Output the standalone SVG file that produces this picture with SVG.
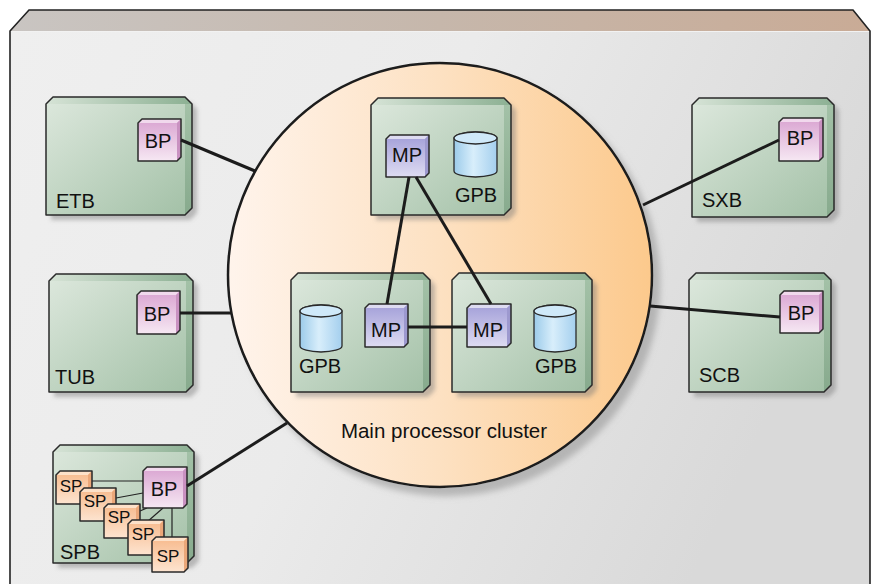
<svg xmlns="http://www.w3.org/2000/svg" width="877" height="584" viewBox="0 0 877 584">
<defs>
<linearGradient id="gFace" x1="0" y1="0" x2="1" y2="0.3"><stop offset="0" stop-color="#efefef"/><stop offset="0.5" stop-color="#ebebeb"/><stop offset="1" stop-color="#d9d9d9"/></linearGradient>
<linearGradient id="gTopFace" x1="0" y1="0" x2="1" y2="0"><stop offset="0" stop-color="#c9c5c2"/><stop offset="0.5" stop-color="#c6b7ab"/><stop offset="1" stop-color="#c9ab96"/></linearGradient>
<linearGradient id="gCircle" x1="0" y1="0" x2="1" y2="0"><stop offset="0" stop-color="#fff4ec"/><stop offset="0.5" stop-color="#fde1c2"/><stop offset="1" stop-color="#fcc98c"/></linearGradient>
<linearGradient id="gBoard" x1="0" y1="0" x2="1" y2="1"><stop offset="0" stop-color="#dde8dd"/><stop offset="1" stop-color="#a2c0a6"/></linearGradient>
<linearGradient id="gBoardTop" x1="0" y1="0" x2="1" y2="0"><stop offset="0" stop-color="#d6e3d6"/><stop offset="1" stop-color="#8cb093"/></linearGradient>
<linearGradient id="gBoardSide" x1="0" y1="0" x2="0" y2="1"><stop offset="0" stop-color="#a3c1a7"/><stop offset="1" stop-color="#87aa8d"/></linearGradient>
<linearGradient id="gBP" x1="0" y1="0" x2="0" y2="1"><stop offset="0" stop-color="#d9a3d1"/><stop offset="1" stop-color="#f6e8f3"/></linearGradient>
<linearGradient id="gMP" x1="0" y1="0" x2="0" y2="1"><stop offset="0" stop-color="#a29ed8"/><stop offset="1" stop-color="#dedcf2"/></linearGradient>
<linearGradient id="gSP" x1="0" y1="0" x2="0" y2="1"><stop offset="0" stop-color="#f7b98b"/><stop offset="1" stop-color="#fde4d0"/></linearGradient>
<linearGradient id="gCyl" x1="0" y1="0" x2="1" y2="0"><stop offset="0" stop-color="#9ccbea"/><stop offset="0.45" stop-color="#d8eefb"/><stop offset="1" stop-color="#a4cfee"/></linearGradient>
<filter id="sh" x="-10%" y="-10%" width="130%" height="130%"><feDropShadow dx="5" dy="5" stdDeviation="2" flood-color="#777" flood-opacity="0.45"/></filter>
<filter id="shc" x="-10%" y="-10%" width="130%" height="130%"><feDropShadow dx="7" dy="8" stdDeviation="3" flood-color="#888" flood-opacity="0.5"/></filter>
</defs>
<style>
.ol{fill:none;stroke:#2a2a2a;stroke-width:1.5;stroke-linejoin:round}
.bd{fill:url(#gBoard)}
.bt{fill:url(#gBoardTop)}
.bs{fill:url(#gBoardSide)}
.bp{fill:url(#gBP)}
.bpt{fill:#f1d9ed}
.bps{fill:#c991c1}
.mp{fill:url(#gMP)}
.mpt{fill:#dddbf1}
.mps{fill:#9d99cf}
.sp{fill:url(#gSP)}
.spt{fill:#fde1c9}
.sps{fill:#eba779}
.cyl{fill:url(#gCyl);stroke:#2a2a2a;stroke-width:1.3}
.cylt{fill:#cfe9f9;stroke:#2a2a2a;stroke-width:1.3}
.t{font-family:"Liberation Sans",Arial,sans-serif;font-size:20px;fill:#111}
.ts{font-family:"Liberation Sans",Arial,sans-serif;font-size:17px;fill:#111}
.c{text-anchor:middle}
.ln{stroke:#1c1c1c;stroke-width:3;fill:none;stroke-linecap:butt}
.thin{stroke:#222;stroke-width:1.2;fill:none}
</style>
<rect width="877" height="584" fill="#ffffff"/>
<g id="outer-board">
<path d="M10,31 L870,31 L870,584 L10,584 Z" fill="url(#gFace)"/>
<path d="M10,31 L29,10 L853,10 L870,31 Z" fill="url(#gTopFace)"/>
<path d="M10,584 L10,31 L29,10 L853,10 L870,31 L870,584" fill="none" stroke="#222" stroke-width="1.6"/>
<line x1="11" y1="31.5" x2="869" y2="31.5" stroke="#f2f2f2" stroke-width="1"/>
</g>
<g id="cluster">
<circle cx="440" cy="275" r="212" fill="url(#gCircle)" stroke="#1c1c1c" stroke-width="2.5" filter="url(#shc)"/>
<text class="t c" x="444" y="438" style="font-size:20.5px">Main processor cluster</text>
</g>
<g id="ETB">
<g filter="url(#sh)"><path class="bd" d="M46,104 L53,97 L185,97 L192,104 L192,208 L185,215 L46,215 Z"/></g>
<path class="bt" d="M46,104 L53,97 L185,97 L192,104 Z"/>
<path class="bs" d="M185,104 L192,104 L192,208 L185,215 Z"/>
<path class="ol" d="M46,104 L53,97 L185,97 L192,104 L192,208 L185,215 L46,215 Z"/>
<text class="t" x="56" y="208">ETB</text>
<g id="ETB-BP">
<path class="bp" d="M138,123 L142,119 L181,119 L181,157 L177,161 L138,161 Z"/>
<path class="bpt" d="M138,123 L142,119 L181,119 L177,123 Z"/>
<path class="bps" d="M177,123 L181,119 L181,157 L177,161 Z"/>
<path class="ol" d="M138,123 L142,119 L181,119 L181,157 L177,161 L138,161 Z"/>
<text class="t c" x="158" y="148">BP</text>
</g>
</g>
<g id="TUB">
<g filter="url(#sh)"><path class="bd" d="M49,281 L56,274 L186,274 L193,281 L193,385 L186,392 L49,392 Z"/></g>
<path class="bt" d="M49,281 L56,274 L186,274 L193,281 Z"/>
<path class="bs" d="M186,281 L193,281 L193,385 L186,392 Z"/>
<path class="ol" d="M49,281 L56,274 L186,274 L193,281 L193,385 L186,392 L49,392 Z"/>
<text class="t" x="55" y="384">TUB</text>
<g id="TUB-BP">
<path class="bp" d="M137,295 L141,291 L180,291 L180,330 L176,334 L137,334 Z"/>
<path class="bpt" d="M137,295 L141,291 L180,291 L176,295 Z"/>
<path class="bps" d="M176,295 L180,291 L180,330 L176,334 Z"/>
<path class="ol" d="M137,295 L141,291 L180,291 L180,330 L176,334 L137,334 Z"/>
<text class="t c" x="157" y="321">BP</text>
</g>
</g>
<g id="SPB">
<g filter="url(#sh)"><path class="bd" d="M53,452 L60,445 L187,445 L194,452 L194,556 L187,563 L53,563 Z"/></g>
<path class="bt" d="M53,452 L60,445 L187,445 L194,452 Z"/>
<path class="bs" d="M187,452 L194,452 L194,556 L187,563 Z"/>
<path class="ol" d="M53,452 L60,445 L187,445 L194,452 L194,556 L187,563 L53,563 Z"/>
<text class="t" x="60" y="559">SPB</text>
<g id="SPB-lines">
<line class="thin" x1="92" y1="481" x2="143" y2="481"/>
<line class="thin" x1="116" y1="498" x2="143" y2="493"/>
<line class="thin" x1="140" y1="511" x2="147" y2="508"/>
<line class="thin" x1="147" y1="522" x2="163" y2="508"/>
<line class="thin" x1="172" y1="508" x2="172" y2="537"/>
</g>
<g id="SP1">
<path class="sp" d="M56,475 L60,471 L92,471 L92,500 L88,504 L56,504 Z"/>
<path class="spt" d="M56,475 L60,471 L92,471 L88,475 Z"/>
<path class="sps" d="M88,475 L92,471 L92,500 L88,504 Z"/>
<path class="ol" d="M56,475 L60,471 L92,471 L92,500 L88,504 L56,504 Z"/>
<text class="ts c" x="71" y="492">SP</text>
</g>
<g id="SP2">
<path class="sp" d="M80,492 L84,488 L116,488 L116,517 L112,521 L80,521 Z"/>
<path class="spt" d="M80,492 L84,488 L116,488 L112,492 Z"/>
<path class="sps" d="M112,492 L116,488 L116,517 L112,521 Z"/>
<path class="ol" d="M80,492 L84,488 L116,488 L116,517 L112,521 L80,521 Z"/>
<text class="ts c" x="95" y="507">SP</text>
</g>
<g id="SP3">
<path class="sp" d="M104,508 L108,504 L140,504 L140,534 L136,538 L104,538 Z"/>
<path class="spt" d="M104,508 L108,504 L140,504 L136,508 Z"/>
<path class="sps" d="M136,508 L140,504 L140,534 L136,538 Z"/>
<path class="ol" d="M104,508 L108,504 L140,504 L140,534 L136,538 L104,538 Z"/>
<text class="ts c" x="119" y="523">SP</text>
</g>
<g id="SP4">
<path class="sp" d="M128,524 L132,520 L164,520 L164,551 L160,555 L128,555 Z"/>
<path class="spt" d="M128,524 L132,520 L164,520 L160,524 Z"/>
<path class="sps" d="M160,524 L164,520 L164,551 L160,555 Z"/>
<path class="ol" d="M128,524 L132,520 L164,520 L164,551 L160,555 L128,555 Z"/>
<text class="ts c" x="143" y="540">SP</text>
</g>
<g id="SP5">
<path class="sp" d="M152,541 L156,537 L188,537 L188,568 L184,572 L152,572 Z"/>
<path class="spt" d="M152,541 L156,537 L188,537 L184,541 Z"/>
<path class="sps" d="M184,541 L188,537 L188,568 L184,572 Z"/>
<path class="ol" d="M152,541 L156,537 L188,537 L188,568 L184,572 L152,572 Z"/>
<text class="ts c" x="168" y="562">SP</text>
</g>
<g id="SPB-BP">
<path class="bp" d="M143,471 L147,467 L187,467 L187,504 L183,508 L143,508 Z"/>
<path class="bpt" d="M143,471 L147,467 L187,467 L183,471 Z"/>
<path class="bps" d="M183,471 L187,467 L187,504 L183,508 Z"/>
<path class="ol" d="M143,471 L147,467 L187,467 L187,504 L183,508 L143,508 Z"/>
<text class="t c" x="164" y="496">BP</text>
</g>
</g>
<g id="SXB">
<g filter="url(#sh)"><path class="bd" d="M692,105 L699,98 L827,98 L834,105 L834,210 L827,217 L692,217 Z"/></g>
<path class="bt" d="M692,105 L699,98 L827,98 L834,105 Z"/>
<path class="bs" d="M827,105 L834,105 L834,210 L827,217 Z"/>
<path class="ol" d="M692,105 L699,98 L827,98 L834,105 L834,210 L827,217 L692,217 Z"/>
<text class="t" x="702" y="207">SXB</text>
<g id="SXB-BP">
<path class="bp" d="M779,122 L783,118 L823,118 L823,157 L819,161 L779,161 Z"/>
<path class="bpt" d="M779,122 L783,118 L823,118 L819,122 Z"/>
<path class="bps" d="M819,122 L823,118 L823,157 L819,161 Z"/>
<path class="ol" d="M779,122 L783,118 L823,118 L823,157 L819,161 L779,161 Z"/>
<text class="t c" x="800" y="145">BP</text>
</g>
</g>
<g id="SCB">
<g filter="url(#sh)"><path class="bd" d="M689,280 L696,273 L824,273 L831,280 L831,385 L824,392 L689,392 Z"/></g>
<path class="bt" d="M689,280 L696,273 L824,273 L831,280 Z"/>
<path class="bs" d="M824,280 L831,280 L831,385 L824,392 Z"/>
<path class="ol" d="M689,280 L696,273 L824,273 L831,280 L831,385 L824,392 L689,392 Z"/>
<text class="t" x="699" y="382">SCB</text>
<g id="SCB-BP">
<path class="bp" d="M780,295 L784,291 L823,291 L823,329 L819,333 L780,333 Z"/>
<path class="bpt" d="M780,295 L784,291 L823,291 L819,295 Z"/>
<path class="bps" d="M819,295 L823,291 L823,329 L819,333 Z"/>
<path class="ol" d="M780,295 L784,291 L823,291 L823,329 L819,333 L780,333 Z"/>
<text class="t c" x="801" y="320">BP</text>
</g>
</g>
<g id="MPB-top">
<g filter="url(#sh)"><path class="bd" d="M371,105 L378,98 L504,98 L511,105 L511,208 L504,215 L371,215 Z"/></g>
<path class="bt" d="M371,105 L378,98 L504,98 L511,105 Z"/>
<path class="bs" d="M504,105 L511,105 L511,208 L504,215 Z"/>
<path class="ol" d="M371,105 L378,98 L504,98 L511,105 L511,208 L504,215 L371,215 Z"/>
<path class="cyl" d="M454,138 A21.5,6 0 0 1 497,138 L497,171 A21.5,6 0 0 1 454,171 Z"/>
<ellipse class="cylt" cx="475.5" cy="138" rx="21.5" ry="6"/>
<text class="t c" x="476" y="202">GPB</text>
</g>
<g id="MPB-left">
<g filter="url(#sh)"><path class="bd" d="M291,280 L298,273 L423,273 L430,280 L430,385 L423,392 L291,392 Z"/></g>
<path class="bt" d="M291,280 L298,273 L423,273 L430,280 Z"/>
<path class="bs" d="M423,280 L430,280 L430,385 L423,392 Z"/>
<path class="ol" d="M291,280 L298,273 L423,273 L430,280 L430,385 L423,392 L291,392 Z"/>
<path class="cyl" d="M300,311 A21,6 0 0 1 342,311 L342,346 A21,6 0 0 1 300,346 Z"/>
<ellipse class="cylt" cx="321" cy="311" rx="21" ry="6"/>
<text class="t c" x="320" y="373">GPB</text>
</g>
<g id="MPB-right">
<g filter="url(#sh)"><path class="bd" d="M452,280 L459,273 L585,273 L592,280 L592,385 L585,392 L452,392 Z"/></g>
<path class="bt" d="M452,280 L459,273 L585,273 L592,280 Z"/>
<path class="bs" d="M585,280 L592,280 L592,385 L585,392 Z"/>
<path class="ol" d="M452,280 L459,273 L585,273 L592,280 L592,385 L585,392 L452,392 Z"/>
<path class="cyl" d="M534,311 A21,6 0 0 1 576,311 L576,346 A21,6 0 0 1 534,346 Z"/>
<ellipse class="cylt" cx="555" cy="311" rx="21" ry="6"/>
<text class="t c" x="556" y="373">GPB</text>
</g>
<g id="MP-top">
<path class="mp" d="M386,139 L390,135 L429,135 L429,173 L425,177 L386,177 Z"/>
<path class="mpt" d="M386,139 L390,135 L429,135 L425,139 Z"/>
<path class="mps" d="M425,139 L429,135 L429,173 L425,177 Z"/>
<path class="ol" d="M386,139 L390,135 L429,135 L429,173 L425,177 L386,177 Z"/>
<text class="t c" x="407" y="162">MP</text>
</g>
<g id="MP-left">
<path class="mp" d="M365,308 L369,304 L408,304 L408,343 L404,347 L365,347 Z"/>
<path class="mpt" d="M365,308 L369,304 L408,304 L404,308 Z"/>
<path class="mps" d="M404,308 L408,304 L408,343 L404,347 Z"/>
<path class="ol" d="M365,308 L369,304 L408,304 L408,343 L404,347 L365,347 Z"/>
<text class="t c" x="386" y="337">MP</text>
</g>
<g id="MP-right">
<path class="mp" d="M467,308 L471,304 L511,304 L511,343 L507,347 L467,347 Z"/>
<path class="mpt" d="M467,308 L471,304 L511,304 L507,308 Z"/>
<path class="mps" d="M507,308 L511,304 L511,343 L507,347 Z"/>
<path class="ol" d="M467,308 L471,304 L511,304 L511,343 L507,347 L467,347 Z"/>
<text class="t c" x="488" y="337">MP</text>
</g>
<g id="connectors">
<line class="ln" x1="181" y1="140" x2="255" y2="171"/>
<line class="ln" x1="180" y1="313" x2="232" y2="313"/>
<line class="ln" x1="187" y1="486" x2="287" y2="423"/>
<line class="ln" x1="643" y1="205" x2="779" y2="140"/>
<line class="ln" x1="650" y1="306" x2="780" y2="317"/>
<line class="ln" x1="409" y1="177" x2="387" y2="304"/>
<line class="ln" x1="416" y1="177" x2="491" y2="304"/>
<line class="ln" x1="408" y1="327" x2="467" y2="327"/>
</g>
</svg>
